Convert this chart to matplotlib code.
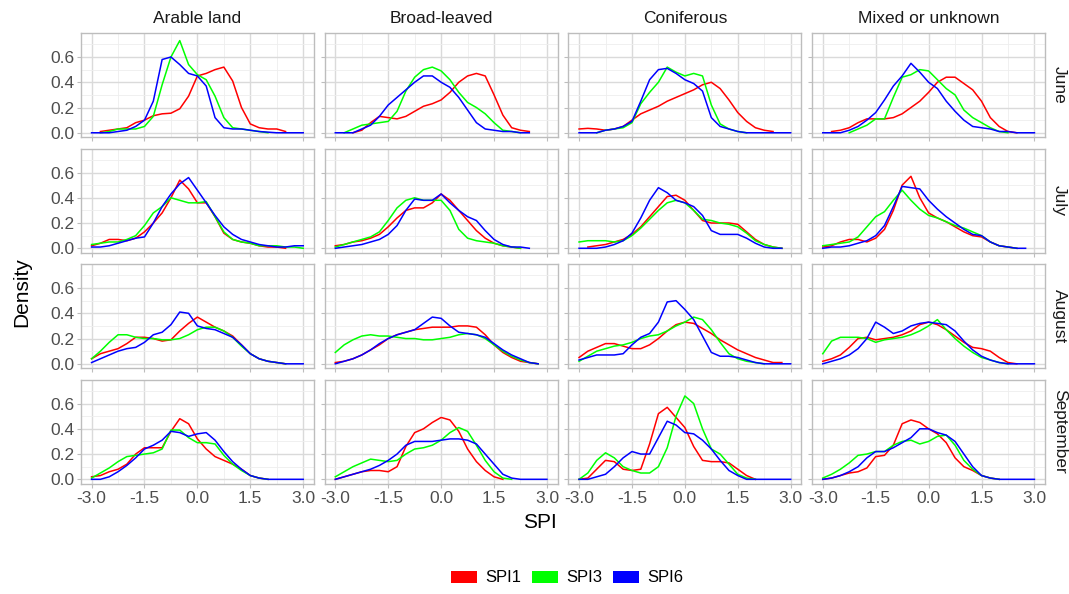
import numpy as np
import matplotlib.pyplot as plt
from matplotlib.patches import Patch

plt.rcParams['font.family'] = ['Liberation Sans', 'DejaVu Sans']
plt.rcParams['axes.unicode_minus'] = False

# SPI grid the densities were read at
spi_x = np.arange(-3.0, 3.01, 0.25)

covers = ['Arable land', 'Broad-leaved', 'Coniferous', 'Mixed or unknown']
months = ['June', 'July', 'August', 'September']
series = ['SPI1', 'SPI3', 'SPI6']
colors = ['#FF0000', '#00FF00', '#0000FF']
x_ticks = [-3.0, -1.5, 0.0, 1.5, 3.0]
x_tick_labels = ['-3.0', '-1.5', '0.0', '1.5', '3.0']
y_ticks = [0.0, 0.2, 0.4, 0.6]
y_tick_labels = ['0.0', '0.2', '0.4', '0.6']

N = None
# June
arable_jun_spi1 = [N, 0.01, 0.02, 0.03, 0.04, 0.08, 0.10, 0.135, 0.15, 0.155, 0.19, 0.29, 0.45, 0.47, 0.50, 0.52, 0.41, 0.20, 0.07, 0.04, 0.03, 0.03, 0.01, N, N]
arable_jun_spi3 = [N, 0.0, 0.01, 0.03, 0.03, 0.03, 0.05, 0.13, 0.38, 0.60, 0.73, 0.54, 0.46, 0.42, 0.29, 0.12, 0.04, 0.03, 0.02, 0.01, 0.0, N, N, N, N]
arable_jun_spi6 = [0.0, 0.0, 0.0, 0.01, 0.02, 0.05, 0.10, 0.25, 0.58, 0.60, 0.54, 0.47, 0.45, 0.37, 0.12, 0.04, 0.03, 0.03, 0.02, 0.01, 0.005, 0.0, 0.0, 0.0, 0.0]
broad_jun_spi1 = [N, N, 0.0, 0.02, 0.08, 0.13, 0.12, 0.11, 0.13, 0.17, 0.21, 0.23, 0.26, 0.32, 0.40, 0.45, 0.47, 0.45, 0.30, 0.14, 0.04, 0.02, 0.01, N, N]
broad_jun_spi3 = [N, 0.0, 0.03, 0.06, 0.07, 0.08, 0.09, 0.17, 0.33, 0.44, 0.50, 0.52, 0.49, 0.42, 0.32, 0.24, 0.20, 0.15, 0.08, 0.02, 0.01, 0.0, N, N, N]
broad_jun_spi6 = [0.0, 0.0, 0.0, 0.03, 0.06, 0.13, 0.22, 0.28, 0.34, 0.40, 0.45, 0.45, 0.40, 0.36, 0.28, 0.18, 0.08, 0.03, 0.02, 0.01, 0.01, 0.0, 0.0, N, N]
conif_jun_spi1 = [0.03, 0.035, 0.03, 0.02, 0.03, 0.05, 0.10, 0.15, 0.18, 0.21, 0.25, 0.28, 0.31, 0.34, 0.38, 0.40, 0.35, 0.26, 0.16, 0.09, 0.04, 0.02, 0.01, N, N]
conif_jun_spi3 = [N, N, 0.0, 0.02, 0.03, 0.04, 0.08, 0.23, 0.32, 0.40, 0.52, 0.48, 0.45, 0.47, 0.45, 0.22, 0.07, 0.03, 0.01, 0.0, N, N, N, N, N]
conif_jun_spi6 = [0.0, 0.0, 0.0, 0.02, 0.03, 0.05, 0.09, 0.25, 0.42, 0.50, 0.51, 0.47, 0.42, 0.39, 0.33, 0.12, 0.05, 0.03, 0.01, 0.0, 0.0, 0.0, 0.0, 0.0, 0.0]
mixed_jun_spi1 = [N, 0.01, 0.02, 0.04, 0.08, 0.11, 0.11, 0.11, 0.12, 0.15, 0.20, 0.25, 0.32, 0.40, 0.44, 0.44, 0.39, 0.34, 0.25, 0.12, 0.05, 0.01, 0.0, N, N]
mixed_jun_spi3 = [N, N, N, 0.0, 0.03, 0.06, 0.11, 0.11, 0.28, 0.44, 0.46, 0.50, 0.49, 0.42, 0.35, 0.30, 0.18, 0.12, 0.08, 0.04, 0.01, 0.0, N, N, N]
mixed_jun_spi6 = [0.0, 0.0, 0.0, 0.02, 0.05, 0.10, 0.16, 0.26, 0.37, 0.45, 0.55, 0.48, 0.40, 0.35, 0.25, 0.17, 0.10, 0.05, 0.04, 0.03, 0.01, 0.01, 0.0, 0.0, 0.0]
# July
arable_jul_spi1 = [0.02, 0.04, 0.07, 0.07, 0.06, 0.08, 0.13, 0.20, 0.28, 0.40, 0.54, 0.47, 0.36, 0.36, 0.25, 0.12, 0.07, 0.05, 0.04, 0.02, 0.01, 0.01, 0.0, N, N]
arable_jul_spi3 = [0.03, 0.04, 0.05, 0.05, 0.07, 0.10, 0.18, 0.28, 0.33, 0.40, 0.38, 0.36, 0.36, 0.37, 0.25, 0.13, 0.07, 0.05, 0.04, 0.02, 0.02, 0.02, 0.01, 0.01, 0.0]
arable_jul_spi6 = [0.01, 0.01, 0.02, 0.04, 0.06, 0.08, 0.09, 0.20, 0.33, 0.43, 0.51, 0.56, 0.46, 0.36, 0.26, 0.17, 0.11, 0.07, 0.05, 0.03, 0.02, 0.01, 0.01, 0.02, 0.02]
broad_jul_spi1 = [0.02, 0.03, 0.05, 0.06, 0.08, 0.11, 0.17, 0.24, 0.30, 0.32, 0.32, 0.36, 0.43, 0.38, 0.30, 0.22, 0.14, 0.08, 0.04, 0.02, 0.01, 0.0, N, N, N]
broad_jul_spi3 = [0.01, 0.03, 0.05, 0.07, 0.09, 0.13, 0.22, 0.32, 0.38, 0.40, 0.38, 0.38, 0.38, 0.30, 0.15, 0.08, 0.06, 0.05, 0.04, 0.02, 0.01, 0.0, N, N, N]
broad_jul_spi6 = [0.0, 0.01, 0.02, 0.03, 0.05, 0.07, 0.11, 0.18, 0.30, 0.39, 0.38, 0.38, 0.43, 0.36, 0.30, 0.25, 0.22, 0.14, 0.07, 0.03, 0.01, 0.01, 0.0, N, N]
conif_jul_spi1 = [N, 0.01, 0.02, 0.03, 0.05, 0.07, 0.11, 0.17, 0.25, 0.33, 0.41, 0.42, 0.38, 0.30, 0.22, 0.20, 0.20, 0.20, 0.19, 0.13, 0.07, 0.03, 0.01, 0.0, N]
conif_jul_spi3 = [0.05, 0.06, 0.06, 0.06, 0.05, 0.06, 0.10, 0.16, 0.23, 0.30, 0.36, 0.38, 0.36, 0.30, 0.23, 0.22, 0.20, 0.19, 0.17, 0.12, 0.06, 0.03, 0.01, 0.0, N]
conif_jul_spi6 = [0.0, 0.0, 0.0, 0.01, 0.03, 0.06, 0.12, 0.24, 0.38, 0.48, 0.44, 0.38, 0.36, 0.33, 0.26, 0.14, 0.11, 0.11, 0.11, 0.08, 0.04, 0.01, 0.0, 0.0, N]
mixed_jul_spi1 = [0.01, 0.02, 0.05, 0.07, 0.07, 0.05, 0.08, 0.15, 0.30, 0.50, 0.57, 0.40, 0.28, 0.24, 0.21, 0.17, 0.13, 0.10, 0.09, 0.05, 0.02, 0.01, 0.0, N, N]
mixed_jul_spi3 = [0.02, 0.03, 0.04, 0.05, 0.09, 0.17, 0.25, 0.29, 0.38, 0.46, 0.38, 0.31, 0.26, 0.24, 0.21, 0.18, 0.16, 0.13, 0.10, 0.05, 0.02, 0.01, 0.0, N, N]
mixed_jul_spi6 = [0.0, 0.01, 0.01, 0.02, 0.04, 0.06, 0.10, 0.18, 0.33, 0.49, 0.48, 0.47, 0.38, 0.31, 0.25, 0.20, 0.15, 0.11, 0.10, 0.05, 0.02, 0.01, 0.0, 0.0, N]
# August
arable_aug_spi1 = [0.04, 0.08, 0.10, 0.12, 0.16, 0.21, 0.21, 0.20, 0.18, 0.19, 0.26, 0.32, 0.37, 0.33, 0.29, 0.26, 0.22, 0.15, 0.08, 0.04, 0.02, 0.01, 0.0, N, N]
arable_aug_spi3 = [0.04, 0.10, 0.17, 0.23, 0.23, 0.21, 0.20, 0.20, 0.19, 0.19, 0.20, 0.23, 0.27, 0.29, 0.29, 0.26, 0.21, 0.14, 0.08, 0.04, 0.02, 0.01, 0.0, N, N]
arable_aug_spi6 = [0.01, 0.04, 0.07, 0.10, 0.12, 0.13, 0.17, 0.23, 0.25, 0.31, 0.41, 0.40, 0.30, 0.28, 0.27, 0.24, 0.21, 0.15, 0.08, 0.04, 0.02, 0.01, 0.0, 0.0, 0.0]
broad_aug_spi1 = [0.01, 0.02, 0.04, 0.07, 0.11, 0.15, 0.20, 0.23, 0.25, 0.27, 0.28, 0.29, 0.29, 0.29, 0.30, 0.30, 0.29, 0.23, 0.15, 0.09, 0.05, 0.02, 0.01, 0.0, N]
broad_aug_spi3 = [0.09, 0.15, 0.19, 0.22, 0.23, 0.22, 0.22, 0.21, 0.20, 0.20, 0.19, 0.19, 0.20, 0.21, 0.23, 0.24, 0.23, 0.20, 0.15, 0.10, 0.06, 0.03, 0.01, 0.0, N]
broad_aug_spi6 = [0.0, 0.02, 0.04, 0.07, 0.11, 0.16, 0.20, 0.23, 0.25, 0.27, 0.32, 0.37, 0.36, 0.30, 0.25, 0.24, 0.23, 0.21, 0.16, 0.11, 0.07, 0.04, 0.01, 0.0, N]
conif_aug_spi1 = [0.05, 0.10, 0.13, 0.16, 0.16, 0.14, 0.12, 0.12, 0.15, 0.20, 0.26, 0.31, 0.33, 0.32, 0.28, 0.24, 0.19, 0.15, 0.11, 0.08, 0.05, 0.03, 0.01, 0.01, N]
conif_aug_spi3 = [0.02, 0.06, 0.10, 0.12, 0.14, 0.15, 0.17, 0.20, 0.22, 0.23, 0.26, 0.30, 0.33, 0.37, 0.35, 0.27, 0.17, 0.08, 0.04, 0.02, 0.01, 0.0, N, N, N]
conif_aug_spi6 = [0.03, 0.05, 0.07, 0.07, 0.07, 0.08, 0.15, 0.21, 0.24, 0.33, 0.49, 0.50, 0.43, 0.35, 0.22, 0.09, 0.06, 0.06, 0.05, 0.03, 0.01, 0.0, 0.0, 0.0, 0.0]
mixed_aug_spi1 = [0.02, 0.04, 0.07, 0.13, 0.20, 0.21, 0.19, 0.20, 0.21, 0.23, 0.26, 0.31, 0.33, 0.31, 0.27, 0.22, 0.17, 0.13, 0.12, 0.10, 0.05, 0.01, 0.0, N, N]
mixed_aug_spi3 = [0.08, 0.18, 0.21, 0.21, 0.21, 0.20, 0.17, 0.19, 0.20, 0.21, 0.23, 0.26, 0.30, 0.35, 0.27, 0.20, 0.14, 0.09, 0.05, 0.03, 0.01, 0.0, N, N, N]
mixed_aug_spi6 = [0.0, 0.02, 0.04, 0.07, 0.12, 0.20, 0.33, 0.29, 0.24, 0.26, 0.30, 0.32, 0.33, 0.32, 0.31, 0.26, 0.18, 0.11, 0.06, 0.03, 0.01, 0.0, 0.0, 0.0, 0.0]
# September
arable_sep_spi1 = [0.02, 0.03, 0.06, 0.08, 0.12, 0.20, 0.25, 0.25, 0.25, 0.38, 0.48, 0.44, 0.32, 0.24, 0.18, 0.15, 0.12, 0.08, 0.03, 0.01, 0.0, N, N, N, N]
arable_sep_spi3 = [0.01, 0.05, 0.09, 0.14, 0.18, 0.19, 0.20, 0.21, 0.24, 0.39, 0.39, 0.33, 0.29, 0.29, 0.28, 0.19, 0.12, 0.07, 0.03, 0.01, 0.0, N, N, N, N]
arable_sep_spi6 = [0.0, 0.0, 0.02, 0.06, 0.11, 0.17, 0.24, 0.27, 0.31, 0.38, 0.37, 0.34, 0.36, 0.37, 0.31, 0.22, 0.14, 0.08, 0.03, 0.01, 0.0, 0.0, 0.0, 0.0, 0.0]
broad_sep_spi1 = [0.0, 0.02, 0.04, 0.06, 0.07, 0.07, 0.06, 0.10, 0.26, 0.37, 0.40, 0.45, 0.49, 0.47, 0.38, 0.24, 0.14, 0.07, 0.02, 0.0, N, N, N, N, N]
broad_sep_spi3 = [0.02, 0.06, 0.10, 0.13, 0.16, 0.15, 0.14, 0.15, 0.20, 0.24, 0.25, 0.27, 0.31, 0.37, 0.41, 0.38, 0.27, 0.15, 0.06, 0.01, 0.0, N, N, N, N]
broad_sep_spi6 = [0.0, 0.02, 0.04, 0.06, 0.08, 0.11, 0.15, 0.20, 0.27, 0.30, 0.30, 0.30, 0.31, 0.32, 0.32, 0.31, 0.28, 0.20, 0.12, 0.04, 0.01, 0.0, 0.0, 0.0, 0.0]
conif_sep_spi1 = [0.0, 0.01, 0.08, 0.15, 0.14, 0.08, 0.07, 0.08, 0.28, 0.52, 0.57, 0.49, 0.41, 0.26, 0.15, 0.14, 0.14, 0.13, 0.08, 0.03, 0.0, N, N, N, N]
conif_sep_spi3 = [0.0, 0.05, 0.15, 0.21, 0.17, 0.10, 0.07, 0.05, 0.05, 0.10, 0.25, 0.50, 0.66, 0.60, 0.40, 0.24, 0.20, 0.12, 0.04, 0.01, 0.0, N, N, N, N]
conif_sep_spi6 = [0.0, 0.0, 0.02, 0.04, 0.10, 0.17, 0.22, 0.20, 0.20, 0.33, 0.46, 0.43, 0.37, 0.36, 0.31, 0.24, 0.15, 0.07, 0.03, 0.0, 0.0, 0.0, 0.0, 0.0, 0.0]
mixed_sep_spi1 = [0.0, 0.01, 0.03, 0.05, 0.06, 0.09, 0.18, 0.19, 0.27, 0.44, 0.47, 0.45, 0.40, 0.36, 0.29, 0.17, 0.10, 0.07, 0.03, 0.01, 0.0, N, N, N, N]
mixed_sep_spi3 = [0.01, 0.04, 0.08, 0.13, 0.19, 0.20, 0.22, 0.22, 0.27, 0.30, 0.31, 0.28, 0.30, 0.34, 0.35, 0.27, 0.15, 0.08, 0.03, 0.01, 0.0, N, N, N, N]
mixed_sep_spi6 = [0.0, 0.01, 0.03, 0.06, 0.10, 0.17, 0.22, 0.22, 0.25, 0.29, 0.33, 0.40, 0.40, 0.37, 0.35, 0.30, 0.20, 0.10, 0.03, 0.01, 0.0, 0.0, 0.0, 0.0, 0.0]

# rows = months, columns = land cover
panels = [
    [(arable_jun_spi1, arable_jun_spi3, arable_jun_spi6), (broad_jun_spi1, broad_jun_spi3, broad_jun_spi6),
     (conif_jun_spi1, conif_jun_spi3, conif_jun_spi6), (mixed_jun_spi1, mixed_jun_spi3, mixed_jun_spi6)],
    [(arable_jul_spi1, arable_jul_spi3, arable_jul_spi6), (broad_jul_spi1, broad_jul_spi3, broad_jul_spi6),
     (conif_jul_spi1, conif_jul_spi3, conif_jul_spi6), (mixed_jul_spi1, mixed_jul_spi3, mixed_jul_spi6)],
    [(arable_aug_spi1, arable_aug_spi3, arable_aug_spi6), (broad_aug_spi1, broad_aug_spi3, broad_aug_spi6),
     (conif_aug_spi1, conif_aug_spi3, conif_aug_spi6), (mixed_aug_spi1, mixed_aug_spi3, mixed_aug_spi6)],
    [(arable_sep_spi1, arable_sep_spi3, arable_sep_spi6), (broad_sep_spi1, broad_sep_spi3, broad_sep_spi6),
     (conif_sep_spi1, conif_sep_spi3, conif_sep_spi6), (mixed_sep_spi1, mixed_sep_spi3, mixed_sep_spi6)],
]

fig, axes = plt.subplots(4, 4, figsize=(10.69, 5.94), dpi=100, sharex=True, sharey=True)
fig.subplots_adjust(left=81/1069, right=1045/1069, top=1-33/594, bottom=1-484/594,
                    wspace=0.047, hspace=0.106)

for i, month in enumerate(months):
    for j, cover in enumerate(covers):
        ax = axes[i, j]
        for vals, col in zip(panels[i][j], colors):
            y = np.array([np.nan if v is None else v for v in vals], dtype=float)
            ax.plot(spi_x, y, color=col, lw=1.1)
        ax.set_xlim(-3.3, 3.3)
        ax.set_ylim(-0.037, 0.79)
        ax.set_xticks(x_ticks)
        ax.set_xticks([-2.25, -0.75, 0.75, 2.25], minor=True)
        ax.set_yticks(y_ticks)
        ax.set_yticks([0.1, 0.3, 0.5, 0.7], minor=True)
        ax.grid(which='major', color='#DADADA', lw=1.0)
        ax.grid(which='minor', color='#EEEEEE', lw=0.6)
        ax.set_axisbelow(True)
        for sp in ax.spines.values():
            sp.set_color('#BDBDBD')
            sp.set_linewidth(1.0)
        ax.tick_params(which='major', length=3, color='#BDBDBD', labelcolor='#4D4D4D', labelsize=12.5, pad=2)
        ax.tick_params(which='minor', length=0)
        if i == 0:
            ax.set_title(cover, fontsize=12.5, color='#1A1A1A', pad=7)
        if j == 3:
            ax.text(1.03, 0.5, month, transform=ax.transAxes, rotation=-90,
                    va='center', ha='left', fontsize=12.5, color='#1A1A1A')

axes[3, 0].set_xticklabels(x_tick_labels)
axes[0, 0].set_yticklabels(y_tick_labels)

fig.text(22/1069, 1-292/594, 'Density', rotation=90, ha='center', va='center', fontsize=15, color='black')
fig.text(540/1069, 1-523/594, 'SPI', ha='center', va='center', fontsize=15, color='black')

handles = [Patch(facecolor=c, edgecolor='none', label=s) for s, c in zip(series, colors)]
fig.legend(handles=handles, loc='center', bbox_to_anchor=(567/1069, 1-578/594), ncol=3,
           frameon=False, fontsize=12, handlelength=1.6, handleheight=0.75,
           handletextpad=0.5, columnspacing=0.6)

fig.savefig('out.png', dpi=100, facecolor='white')
